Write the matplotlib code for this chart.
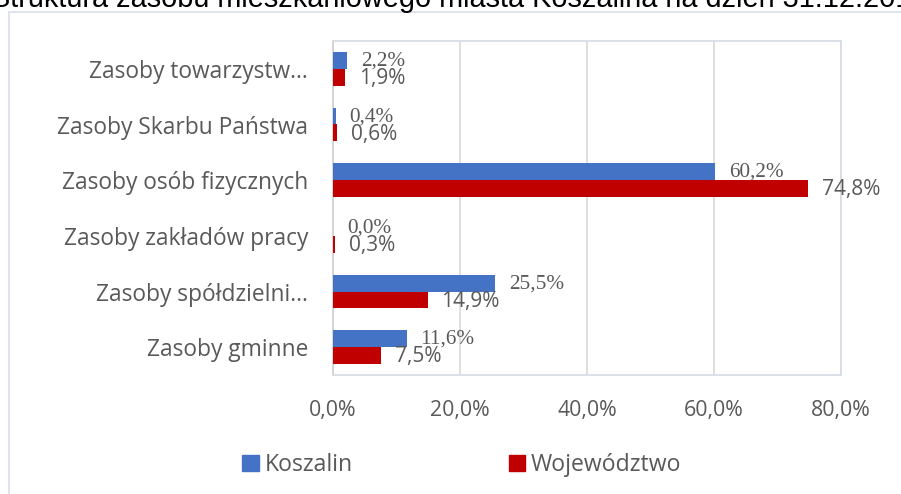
import matplotlib
matplotlib.use("Agg")
import matplotlib.pyplot as plt
from matplotlib.patches import Rectangle, Patch
from matplotlib.ticker import FuncFormatter

categories = ["Zasoby gminne", "Zasoby spółdzielni…", "Zasoby zakładów pracy",
              "Zasoby osób fizycznych", "Zasoby Skarbu Państwa", "Zasoby towarzystw…"]
koszalin = [11.6, 25.5, 0.0, 60.2, 0.4, 2.2]
wojewodztwo = [7.5, 14.9, 0.3, 74.8, 0.6, 1.9]
series_names = ["Koszalin", "Województwo"]
xticks = [0, 20, 40, 60, 80]
title = "Struktura zasobu mieszkaniowego miasta Koszalina na dzień 31.12.2016"

BLUE = "#4472C4"
RED = "#C00000"
TXT = "#595959"
SANS = ["Open Sans", "DejaVu Sans"]
SERIF = ["Liberation Serif", "DejaVu Serif"]

W, H = 901, 494
fig = plt.figure(figsize=(W / 100, H / 100), dpi=100)

# outer chart border
fig.patches.append(Rectangle((9 / W, -0.1), 1.2, 1 - 12 / H + 0.1, transform=fig.transFigure,
                             fill=False, edgecolor="#D9DEE8", linewidth=1.2))

# clipped title
fig.text(-9 / W, 1 - 7 / H, title, fontsize=20.8, family=["Liberation Sans", "DejaVu Sans"],
         color="#000000", ha="left", va="baseline")

ax = fig.add_axes([333 / W, 1 - 375 / H, (841 - 333) / W, (375 - 41) / H])
ax.set_xlim(0, 80)
ax.set_ylim(-0.5, len(categories) - 0.5)

bh = 0.305
ys = list(range(len(categories)))
ax.barh([y + bh / 2 for y in ys], koszalin, height=bh, color=BLUE, zorder=3)
ax.barh([y - bh / 2 for y in ys], wojewodztwo, height=bh, color=RED, zorder=3)

for y, v in zip(ys, koszalin):
    ax.annotate(f"{v:.1f}%".replace(".", ","), (v, y + bh / 2 - 0.01), xytext=(10, 0),
                textcoords="offset points", va="center", ha="left",
                fontsize=15.3, family=SERIF, color=TXT, zorder=4)
for y, v in zip(ys, wojewodztwo):
    ax.annotate(f"{v:.1f}%".replace(".", ","), (v, y - bh / 2 - 0.02), xytext=(10, 0),
                textcoords="offset points", va="center", ha="left",
                fontsize=15, family=SANS, color=TXT, zorder=4)

ax.set_yticks(ys)
ax.set_yticklabels(categories, fontsize=16.4, family=SANS, color=TXT)
ax.set_xticks(xticks)
ax.xaxis.set_major_formatter(FuncFormatter(lambda v, p: f"{v:.1f}%".replace(".", ",")))
for lab in ax.get_xticklabels():
    lab.set_family(SANS)
ax.tick_params(axis="x", labelsize=15.3, colors=TXT, length=0, pad=18)
ax.tick_params(axis="y", length=0, pad=18)
ax.grid(axis="x", color="#D9D9D9", linewidth=1.2, zorder=0)
for s in ax.spines.values():
    s.set_color("#D6DCE5")
    s.set_linewidth(1.2)
ax.spines["left"].set_color("#D0D0D0")

handles = [Patch(facecolor=BLUE, edgecolor=BLUE), Patch(facecolor=RED, edgecolor=RED)]
leg = fig.legend(handles, series_names, loc="center", bbox_to_anchor=(462 / W, 1 - 465 / H),
                 ncol=2, frameon=False, prop={"family": SANS, "size": 16.6},
                 handlelength=0.7, handleheight=0.7, handletextpad=0.25, columnspacing=6.8)
for t in leg.get_texts():
    t.set_color(TXT)

fig.savefig("out.png", dpi=100)
